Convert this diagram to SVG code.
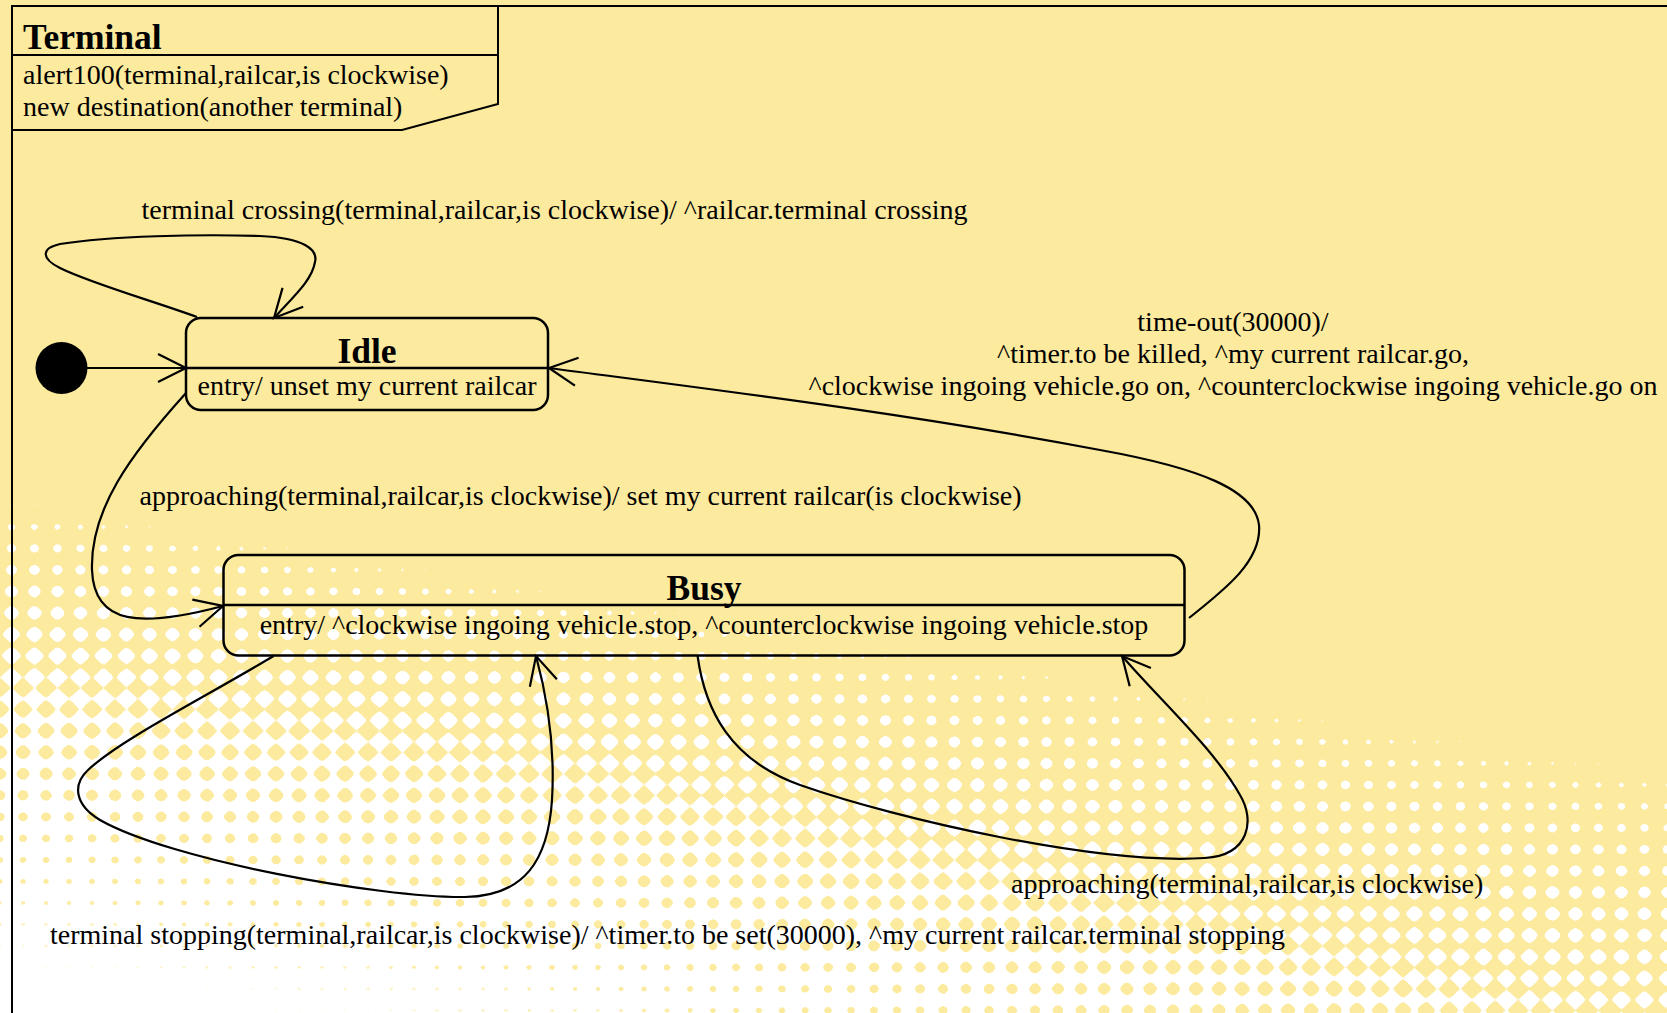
<svg xmlns="http://www.w3.org/2000/svg" width="1667" height="1013" viewBox="0 0 1667 1013">
  <defs>
    <style>
      .t { font-family: "Liberation Serif", "Times New Roman", serif; font-size: 28px; fill: #000; }
      .b { font-weight: bold; font-size: 35.5px; }
      .c { text-anchor: middle; }
      .frame { fill: none; stroke: #000; stroke-width: 2; }
      .box { fill: none; stroke: #000; stroke-width: 2.5; }
      .sep { stroke: #000; stroke-width: 2.5; }
      .edge { fill: none; stroke: #000; stroke-width: 2.2; marker-end: url(#open); }
    </style>
    <!-- open V arrowhead for transitions -->
    <marker id="open" viewBox="-34 -18 38 36" markerWidth="38" markerHeight="36" refX="0" refY="0" orient="auto" markerUnits="userSpaceOnUse">
      <path d="M-28,-14 L0,0 L-28,14" fill="none" stroke="#000" stroke-width="2.2"/>
    </marker>

    <!-- halftone background.
         R channel: cosine wave along x, B channel: cosine wave along y,
         G channel: ink density. The colour matrix thresholds
         (Cx+Cy)/2 + 1.1*D - 1.05 into the alpha of a flat yellow. -->
    <linearGradient id="cx" gradientUnits="userSpaceOnUse" x1="0" y1="0" x2="23" y2="0" spreadMethod="repeat">
      <stop offset="0" stop-color="#ff0000"/>
      <stop offset="0.0625" stop-color="#f50000"/>
      <stop offset="0.125" stop-color="#da0000"/>
      <stop offset="0.1875" stop-color="#b00000"/>
      <stop offset="0.25" stop-color="#800000"/>
      <stop offset="0.3125" stop-color="#4f0000"/>
      <stop offset="0.375" stop-color="#250000"/>
      <stop offset="0.4375" stop-color="#0a0000"/>
      <stop offset="0.5" stop-color="#000000"/>
      <stop offset="0.5625" stop-color="#0a0000"/>
      <stop offset="0.625" stop-color="#250000"/>
      <stop offset="0.6875" stop-color="#4f0000"/>
      <stop offset="0.75" stop-color="#800000"/>
      <stop offset="0.8125" stop-color="#b00000"/>
      <stop offset="0.875" stop-color="#da0000"/>
      <stop offset="0.9375" stop-color="#f50000"/>
      <stop offset="1" stop-color="#ff0000"/>
    </linearGradient>
    <linearGradient id="cy" gradientUnits="userSpaceOnUse" x1="0" y1="0" x2="0" y2="21.5" spreadMethod="repeat">
      <stop offset="0" stop-color="#0000ff"/>
      <stop offset="0.0625" stop-color="#0000f5"/>
      <stop offset="0.125" stop-color="#0000da"/>
      <stop offset="0.1875" stop-color="#0000b0"/>
      <stop offset="0.25" stop-color="#000080"/>
      <stop offset="0.3125" stop-color="#00004f"/>
      <stop offset="0.375" stop-color="#000025"/>
      <stop offset="0.4375" stop-color="#00000a"/>
      <stop offset="0.5" stop-color="#000000"/>
      <stop offset="0.5625" stop-color="#00000a"/>
      <stop offset="0.625" stop-color="#000025"/>
      <stop offset="0.6875" stop-color="#00004f"/>
      <stop offset="0.75" stop-color="#000080"/>
      <stop offset="0.8125" stop-color="#0000b0"/>
      <stop offset="0.875" stop-color="#0000da"/>
      <stop offset="0.9375" stop-color="#0000f5"/>
      <stop offset="1" stop-color="#0000ff"/>
    </linearGradient>
    <linearGradient id="fade" gradientUnits="userSpaceOnUse" x1="0" y1="495" x2="-77.7" y2="968.7">
      <stop offset="0" stop-color="#00ff00"/>
      <stop offset="0.065" stop-color="#00dc00"/>
      <stop offset="0.177" stop-color="#00b900"/>
      <stop offset="0.2875" stop-color="#009600"/>
      <stop offset="0.398" stop-color="#008000"/>
      <stop offset="0.508" stop-color="#006900"/>
      <stop offset="0.619" stop-color="#004500"/>
      <stop offset="0.729" stop-color="#002800"/>
      <stop offset="0.842" stop-color="#001700"/>
      <stop offset="0.958" stop-color="#001000"/>
      <stop offset="1" stop-color="#000a00"/>
    </linearGradient>
    <linearGradient id="boost" gradientUnits="userSpaceOnUse" x1="600" y1="0" x2="1667" y2="0">
      <stop offset="0" stop-color="#00ff00" stop-opacity="0"/>
      <stop offset="1" stop-color="#00ff00" stop-opacity="0.25"/>
    </linearGradient>
    <filter id="ht" filterUnits="userSpaceOnUse" x="0" y="0" width="1667" height="1013" color-interpolation-filters="sRGB">
      <feColorMatrix type="matrix" values="0 0 0 0 0.988  0 0 0 0 0.918  0 0 0 0 0.62  30 66 30 0 -21"/>
    </filter>
  </defs>

  <!-- background -->
  <rect width="1667" height="1013" fill="#fff"/>
  <g filter="url(#ht)">
    <rect width="1667" height="1013" fill="url(#fade)"/>
    <rect width="1667" height="1013" fill="url(#boost)"/>
    <rect width="1667" height="1013" fill="url(#cx)" opacity="0.5"/>
    <rect width="1667" height="1013" fill="url(#cy)" opacity="0.3333"/>
  </g>

  <!-- enclosing state machine frame -->
  <g id="terminal">
    <path class="frame" d="M12,1013 L12,6 L1667,6"/>
    <path class="frame" d="M12,55 L498,55 M498,6 L498,104 L402,130 L12,130"/>
    <text class="t b" x="23" y="49">Terminal</text>
    <text class="t" x="23" y="84">alert100(terminal,railcar,is clockwise)</text>
    <text class="t" x="23" y="116">new destination(another terminal)</text>
  </g>

  <!-- initial pseudo-state -->
  <g id="initial">
    <circle cx="61.5" cy="368" r="26" fill="#000"/>
  </g>

  <g id="idle">
    <rect class="box" x="186" y="318" width="362" height="92" rx="15" ry="15"/>
    <line class="sep" x1="186" y1="368" x2="548" y2="368"/>
    <text class="t b c" x="367" y="363">Idle</text>
    <text class="t c" x="367" y="395">entry/ unset my current railcar</text>
  </g>

  <g id="busy">
    <rect class="box" x="223.5" y="555" width="961" height="100.5" rx="15" ry="15"/>
    <line class="sep" x1="223.5" y1="605" x2="1184.5" y2="605"/>
    <text class="t b c" x="704" y="600">Busy</text>
    <text class="t c" x="704" y="633.5">entry/ ^clockwise ingoing vehicle.stop, ^counterclockwise ingoing vehicle.stop</text>
  </g>

  <!-- transitions -->
  <g id="connectors">
    <path class="edge" d="M87,368 L186,368"/>
    <path class="edge" d="M197,317 C150,300 90,283 60,268 C40,258 42,248 60,244 C110,236 200,234 260,236 C305,238 318,250 315,262 C312,280 295,295 274,318"/>
    <path class="edge" d="M186,393 C130,455 90,510 92,570 C94,625 140,628 223,606"/>
    <path class="edge" d="M1189,618 C1227,588 1262,560 1259,525 C1255,490 1200,468 1100,450 C900,412 700,388 549,368"/>
    <path class="edge" d="M273.6,656 C200,700 120,740 88,770 C72,785 75,805 100,820 C170,860 380,898 465,897 C525,896 548,860 552,800 C555,750 548,700 536,656"/>
    <path class="edge" d="M697.6,656 C705,710 730,760 800,785 C900,820 1100,865 1205,858 C1250,855 1255,820 1240,795 C1215,750 1160,700 1122,656"/>
  </g>

  <!-- transition labels -->
  <g id="labels">
    <text class="t" x="141.5" y="219">terminal crossing(terminal,railcar,is clockwise)/ ^railcar.terminal crossing</text>
    <text class="t c" x="1233" y="330.5">time-out(30000)/</text>
    <text class="t c" x="1233" y="362.5">^timer.to be killed, ^my current railcar.go,</text>
    <text class="t c" x="1233" y="394.5">^clockwise ingoing vehicle.go on, ^counterclockwise ingoing vehicle.go on</text>
    <text class="t" x="139.5" y="505">approaching(terminal,railcar,is clockwise)/ set my current railcar(is clockwise)</text>
    <text class="t" x="1011" y="893">approaching(terminal,railcar,is clockwise)</text>
    <text class="t" x="50" y="944">terminal stopping(terminal,railcar,is clockwise)/ ^timer.to be set(30000), ^my current railcar.terminal stopping</text>
  </g>
</svg>
